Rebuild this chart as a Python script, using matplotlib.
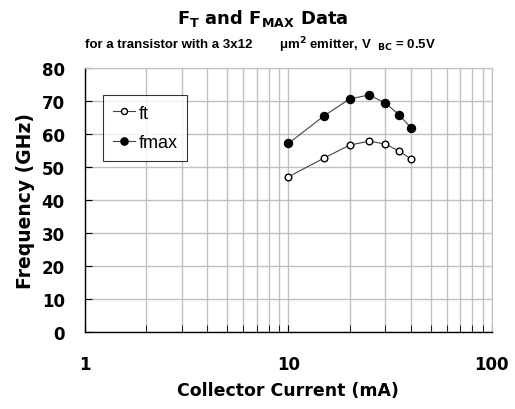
import matplotlib
matplotlib.use('Agg')
import matplotlib.pyplot as plt
from matplotlib.ticker import LogLocator, FixedLocator, NullFormatter

plt.rcParams['font.family'] = ['Liberation Sans', 'DejaVu Sans']
plt.rcParams['mathtext.fontset'] = 'dejavusans'

current_ma = [10, 15, 20, 25, 30, 35, 40]
ft = [47.0, 52.7, 56.6, 57.8, 56.9, 54.8, 52.4]
fmax = [57.1, 65.5, 70.6, 71.8, 69.3, 65.8, 61.9]
y_ticks = [0, 10, 20, 30, 40, 50, 60, 70, 80]
x_ticks = [1, 10, 100]

GRID = '#c0c0c0'
WIDE = 'DejaVu Sans'   # reference text runs wide, DejaVu fits those widths

fig = plt.figure(figsize=(5.15, 4.10), dpi=100)
ax = fig.add_axes([0.165, 0.188, 0.790, 0.644])

ax.plot(current_ma, ft, color='#444444', linewidth=0.8, marker='o', markersize=4.8,
        markerfacecolor='white', markeredgecolor='black', markeredgewidth=1.0, label='ft')
ax.plot(current_ma, fmax, color='#444444', linewidth=0.8, marker='o', markersize=5.8,
        markerfacecolor='black', markeredgecolor='black', label='fmax')

ax.set_xscale('log')
ax.set_xlim(1, 100)
ax.set_ylim(0, 80)
ax.xaxis.set_major_locator(FixedLocator(x_ticks))
ax.xaxis.set_minor_locator(LogLocator(base=10, subs=range(2, 10)))
ax.xaxis.set_minor_formatter(NullFormatter())
ax.set_xticklabels([str(v) for v in x_ticks])
ax.set_yticks(y_ticks)

ax.grid(which='both', axis='x', color=GRID, linewidth=1.0)
ax.grid(which='major', axis='y', color=GRID, linewidth=1.0)
ax.set_axisbelow(True)

for s in ('top', 'right'):
    ax.spines[s].set_color(GRID)
for s in ('left', 'bottom'):
    ax.spines[s].set_color('black')
    ax.spines[s].set_linewidth(1.0)

ax.tick_params(axis='both', which='both', direction='in', color='black', length=5,
               top=False, right=False)
ax.tick_params(axis='x', which='major', pad=16.5, labelsize=12)
ax.tick_params(axis='y', which='major', pad=14.5, labelsize=12)
for lbl in ax.get_xticklabels() + ax.get_yticklabels():
    lbl.set_fontweight('bold')
    lbl.set_family(WIDE)

ax.set_xlabel('Collector Current (mA)', fontsize=12.5, fontweight='bold', family=WIDE, labelpad=6)
ax.set_ylabel('Frequency (GHz)', fontsize=13.5, fontweight='bold', family=WIDE, labelpad=5)

leg = ax.legend(loc='upper left', bbox_to_anchor=(0.044, 0.898), borderaxespad=0,
                prop={'size': 13}, frameon=True, fancybox=False, edgecolor='black',
                handlelength=1.22, handletextpad=0.2, labelspacing=0.7, borderpad=0.55,
                markerscale=0.9)
leg.get_frame().set_linewidth(0.8)

fig.text(0.511, 0.955, r'F$_\mathbf{T}$ and F$_\mathbf{MAX}$ Data', ha='center', va='center',
         fontsize=13, fontweight='bold', family=WIDE)
fig.text(252 / 515, 0.89, 'for a transistor with a 3x12', ha='right', va='center',
         fontsize=9.5, fontweight='bold')
fig.text(279 / 515, 0.89, r'μm$^\mathbf{2}$ emitter, V  $_\mathbf{BC}$ = 0.5V', ha='left',
         va='center', fontsize=9.5, fontweight='bold')

fig.savefig('out.png', dpi=100)
